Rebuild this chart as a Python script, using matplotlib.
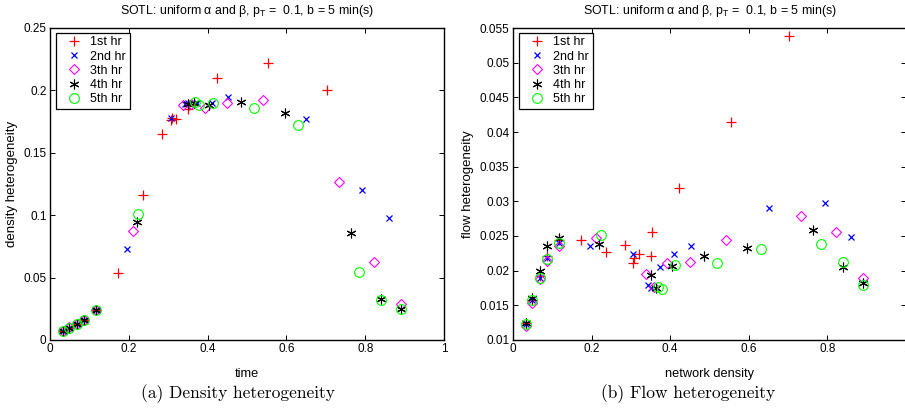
import matplotlib
matplotlib.use("Agg")
import matplotlib.pyplot as plt
from matplotlib.ticker import FixedLocator, FixedFormatter

# ---------------- data ----------------
labels = ["1st hr", "2nd hr", "3th hr", "4th hr", "5th hr"]

x_h1 = [0.032, 0.049, 0.068, 0.087, 0.118, 0.172, 0.237, 0.285, 0.306, 0.309, 0.320, 0.351, 0.354, 0.423, 0.554, 0.702]
dens_h1 = [0.0072, 0.0099, 0.0126, 0.0158, 0.0238, 0.054, 0.116, 0.165, 0.176, 0.178, 0.177, 0.185, 0.188, 0.210, 0.222, 0.200]
flow_h1 = [0.0125, 0.0158, 0.0192, 0.0221, 0.0244, 0.0244, 0.0227, 0.0237, 0.0211, 0.0218, 0.0224, 0.0221, 0.0256, 0.0319, 0.0414, 0.0538]

x_h2 = [0.032, 0.049, 0.068, 0.087, 0.118, 0.196, 0.306, 0.343, 0.350, 0.373, 0.410, 0.453, 0.651, 0.793, 0.861]
dens_h2 = [0.0072, 0.0099, 0.0126, 0.0158, 0.0238, 0.0727, 0.178, 0.189, 0.190, 0.190, 0.190, 0.195, 0.177, 0.120, 0.0975]
flow_h2 = [0.0123, 0.0157, 0.0190, 0.0218, 0.0240, 0.0236, 0.0224, 0.0180, 0.0175, 0.0205, 0.0224, 0.0235, 0.0290, 0.0297, 0.0249]

x_h3 = [0.032, 0.049, 0.068, 0.087, 0.118, 0.210, 0.338, 0.358, 0.393, 0.450, 0.541, 0.734, 0.823, 0.890]
dens_h3 = [0.0075, 0.0102, 0.0130, 0.0160, 0.0240, 0.0873, 0.188, 0.189, 0.186, 0.190, 0.192, 0.127, 0.0623, 0.0285]
flow_h3 = [0.0120, 0.0153, 0.0188, 0.0214, 0.0236, 0.0247, 0.0195, 0.0176, 0.0211, 0.0213, 0.0244, 0.0279, 0.0256, 0.0190]

x_h4 = [0.032, 0.049, 0.068, 0.087, 0.118, 0.220, 0.351, 0.365, 0.404, 0.485, 0.596, 0.764, 0.840, 0.890]
dens_h4 = [0.0072, 0.0099, 0.0126, 0.0158, 0.0238, 0.0948, 0.189, 0.190, 0.188, 0.191, 0.182, 0.086, 0.0326, 0.025]
flow_h4 = [0.0124, 0.0160, 0.0199, 0.0235, 0.0247, 0.0238, 0.0194, 0.0175, 0.0207, 0.0221, 0.0233, 0.0259, 0.0205, 0.0182]

x_h5 = [0.032, 0.049, 0.068, 0.087, 0.118, 0.224, 0.368, 0.378, 0.413, 0.518, 0.630, 0.783, 0.840, 0.890]
dens_h5 = [0.0072, 0.0099, 0.0126, 0.0158, 0.0238, 0.101, 0.191, 0.188, 0.190, 0.186, 0.172, 0.0548, 0.032, 0.025]
flow_h5 = [0.0123, 0.0157, 0.0190, 0.0217, 0.0240, 0.0251, 0.0176, 0.0173, 0.0208, 0.0211, 0.0231, 0.0238, 0.0213, 0.0180]

xticks = [0, 0.2, 0.4, 0.6, 0.8, 1]
xticklabels = ["0", "0.2", "0.4", "0.6", "0.8", "1"]
yticks_a = [0, 0.05, 0.1, 0.15, 0.2, 0.25]
yticklabels_a = ["0", "0.05", "0.1", "0.15", "0.2", "0.25"]
yticks_b = [0.01, 0.015, 0.02, 0.025, 0.03, 0.035, 0.04, 0.045, 0.05, 0.055]
yticklabels_b = ["0.01", "0.015", "0.02", "0.025", "0.03", "0.035", "0.04", "0.045", "0.05", "0.055"]

title = "SOTL: uniform \u03b1 and \u03b2, p$_{\\mathregular{T}}$ =  0.1, b = 5 min(s)"

# ---------------- style ----------------
plt.rcParams['font.family'] = ['Liberation Sans', 'DejaVu Sans']
plt.rcParams['mathtext.default'] = 'regular'

W, H = 905, 409
fig = plt.figure(figsize=(W / 100, H / 100), dpi=100)

def frac_box(x0, x1, ytop, ybot):
    return [x0 / W, 1 - ybot / H, (x1 - x0) / W, (ybot - ytop) / H]

ax1 = fig.add_axes(frac_box(50, 444, 28, 340))
ax2 = fig.add_axes(frac_box(513, 906, 28, 340))

styles = [
    dict(marker='+', color='#ff0000', ms=7, mew=0.9, mfc='none'),
    dict(marker='x', color='#0000ff', ms=5, mew=0.9, mfc='none'),
    dict(marker='D', color='#ff00ff', ms=5.5, mew=0.8, mfc='none'),
    dict(marker=(6, 2, 0), color='#000000', ms=7, mew=0.8, mfc='none'),
    dict(marker='o', color='#00ff00', ms=7, mew=0.8, mfc='none'),
]

xs = [x_h1, x_h2, x_h3, x_h4, x_h5]
dens = [dens_h1, dens_h2, dens_h3, dens_h4, dens_h5]
flows = [flow_h1, flow_h2, flow_h3, flow_h4, flow_h5]

for x, d, st, lab in zip(xs, dens, styles, labels):
    ax1.plot(x, d, linestyle='none', label=lab, **st)
for x, f, st, lab in zip(xs, flows, styles, labels):
    ax2.plot(x, f, linestyle='none', label=lab, **st)

def style_axes(ax, yt, ytl, ylim, ylabel, xlabel, axw):
    ax.set_xlim(0, 1)
    ax.set_ylim(*ylim)
    ax.xaxis.set_major_locator(FixedLocator(xticks))
    ax.xaxis.set_major_formatter(FixedFormatter(xticklabels))
    ax.yaxis.set_major_locator(FixedLocator(yt))
    ax.yaxis.set_major_formatter(FixedFormatter(ytl))
    ax.tick_params(direction='in', length=3.5, width=0.7, top=True, right=True,
                   labelsize=8.5, pad=2.5, colors='black')
    for s in ax.spines.values():
        s.set_linewidth(1.0)
        s.set_color('black')
    ax.set_title(title, fontsize=8.9, pad=10)
    ax.set_ylabel(ylabel, fontsize=9.5, labelpad=4)
    ax.set_xlabel(xlabel, fontsize=9.2, labelpad=9)
    leg = ax.legend(loc='upper left', bbox_to_anchor=(6 / axw, 1 - 4.5 / 312),
                    borderaxespad=0, fontsize=9, frameon=True, fancybox=False,
                    framealpha=1, edgecolor='black', handlelength=2.3,
                    handletextpad=0.15, labelspacing=0.18, borderpad=0.3,
                    numpoints=1)
    leg.get_frame().set_linewidth(0.9)

style_axes(ax1, yticks_a, yticklabels_a, (0, 0.25), "density heterogeneity", "time", 394)
style_axes(ax2, yticks_b, yticklabels_b, (0.01, 0.055), "flow heterogeneity", "network density", 393)

fig.text(238 / W, 1 - 394 / H, "(a) Density heterogeneity", family='cmr10',
         fontsize=12.5, ha='center', va='center')
fig.text(688 / W, 1 - 394 / H, "(b) Flow heterogeneity", family='cmr10',
         fontsize=12.5, ha='center', va='center')

fig.savefig("out.png", dpi=100)
